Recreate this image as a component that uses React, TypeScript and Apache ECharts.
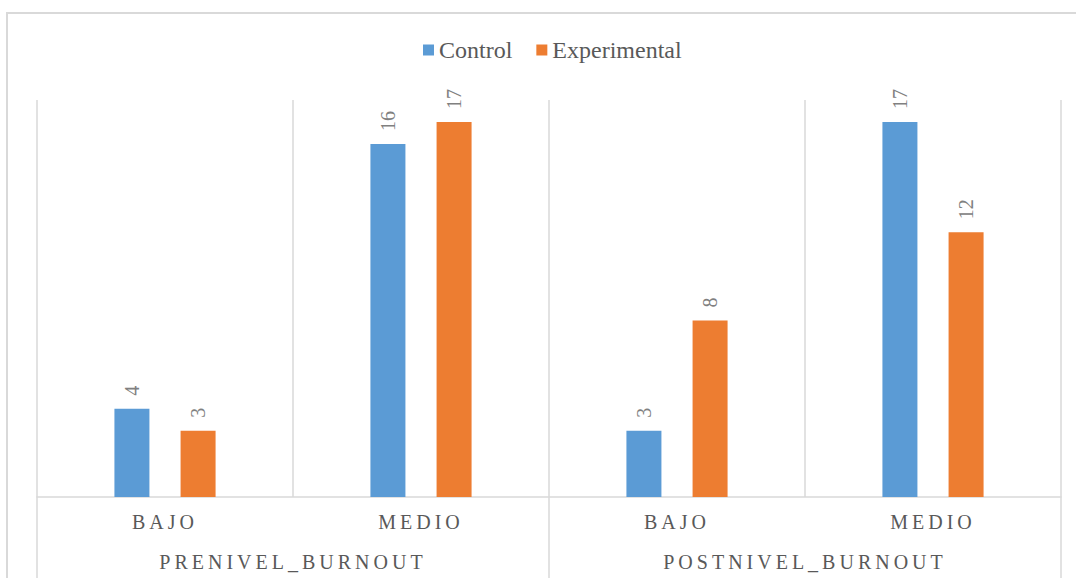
import React, { useEffect, useRef } from "react";
import * as echarts from "echarts";

const levels = ["BAJO", "MEDIO", "BAJO", "MEDIO"];
const groups = ["PRENIVEL_BURNOUT", "POSTNIVEL_BURNOUT"];
const seriesNames = ["Control", "Experimental"];
const controlValues = [4, 16, 3, 17];
const experimentalValues = [3, 17, 8, 12];
const colors = ["#5B9BD5", "#ED7D31"];

const FONT = "Liberation Serif, serif";
const SPACED = new Set([...levels, ...groups]);

export default function App() {
  const ref = useRef<HTMLDivElement>(null);

  useEffect(() => {
    if (!ref.current) return;
    const chart = echarts.init(ref.current, undefined, { renderer: "svg" });
    const spaceLetters = () => {
      if (!ref.current) return;
      ref.current.querySelectorAll("text").forEach((t) => {
        if (SPACED.has((t.textContent || "").trim())) {
          (t as SVGTextElement).style.letterSpacing = "4px";
        }
      });
    };
    const labelStyle = {
      show: true,
      position: "top",
      distance: 13,
      rotate: 90,
      align: "left",
      verticalAlign: "middle",
      fontFamily: FONT,
      fontSize: 20,
      color: "#808080",
    };
    chart.setOption({
      animation: false,
      backgroundColor: "#ffffff",
      textStyle: { fontFamily: FONT },
      color: colors,
      graphic: [
        {
          type: "rect",
          shape: { x: 7, y: 13, width: 1200, height: 700 },
          style: { fill: "none", stroke: "#d9d9d9", lineWidth: 2 },
          silent: true,
          z: -10,
        },
      ],
      legend: {
        top: 38,
        left: 423,
        padding: 0,
        icon: "rect",
        itemWidth: 11,
        itemHeight: 11,
        itemGap: 24,
        textStyle: { fontFamily: FONT, fontSize: 24, color: "#595959" },
        data: seriesNames,
      },
      grid: { left: 37, right: 15, top: 100, bottom: 81, containLabel: false },
      xAxis: [
        {
          type: "category",
          position: "bottom",
          data: levels,
          axisLine: { show: true, lineStyle: { color: "#d9d9d9", width: 1.5 } },
          axisTick: { show: false },
          splitLine: { show: true, lineStyle: { color: "#d9d9d9", width: 1.5 } },
          axisLabel: {
            margin: 15,
            fontFamily: FONT,
            fontSize: 20,
            color: "#595959",
          },
        },
        {
          type: "category",
          position: "bottom",
          data: groups,
          axisLine: { show: false },
          axisTick: { show: true, length: 90, lineStyle: { color: "#d9d9d9", width: 1.5 } },
          splitLine: { show: false },
          axisLabel: {
            margin: 55,
            fontFamily: FONT,
            fontSize: 20,
            color: "#595959",
          },
        },
      ],
      yAxis: {
        type: "value",
        min: 0,
        max: 18,
        show: false,
        splitLine: { show: false },
      },
      series: [
        {
          name: seriesNames[0],
          type: "bar",
          xAxisIndex: 0,
          data: controlValues,
          barWidth: 35,
          barGap: "89%",
          itemStyle: { color: colors[0] },
          label: labelStyle,
        },
        {
          name: seriesNames[1],
          type: "bar",
          xAxisIndex: 0,
          data: experimentalValues,
          barWidth: 35,
          barGap: "89%",
          itemStyle: { color: colors[1] },
          label: labelStyle,
        },
      ],
    });
    spaceLetters();
    chart.on("finished", spaceLetters);
    return () => {
      chart.dispose();
    };
  }, []);

  return (
    <div
      ref={ref}
      style={{ position: "absolute", left: 0, top: 0, width: 1076, height: 578 }}
    />
  );
}
